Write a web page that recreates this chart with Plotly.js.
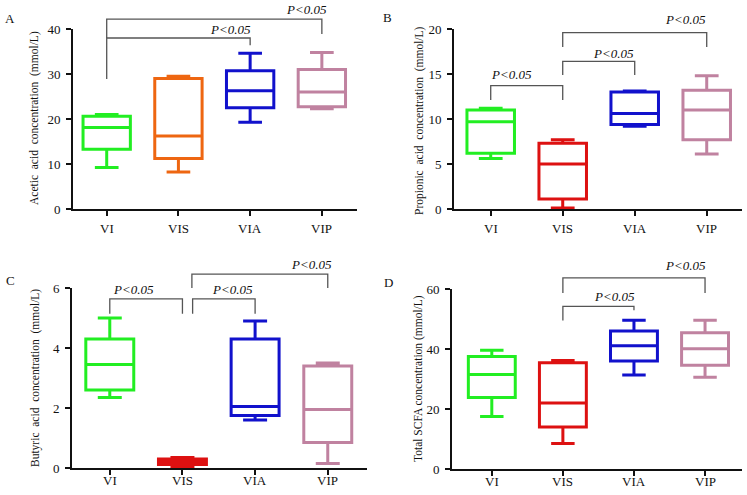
<!DOCTYPE html>
<html>
<head>
<meta charset="utf-8">
<script src="https://cdn.plot.ly/plotly-3.0.1.min.js"></script>
<style>
  body { margin: 0; background: #fff; }
  #chart { width: 747px; height: 495px; }
</style>
</head>
<body>
<div id="chart"></div>
<script>
// groups on the x axis
var groups = ['VI', 'VIS', 'VIA', 'VIP'];

// A - acetic acid
var aLow = [9.2, 8.2, 19.3, 22.3];
var aQ1 = [13.3, 11.2, 22.5, 22.7];
var aMed = [18.1, 16.2, 26.3, 26.0];
var aQ3 = [20.6, 29.0, 30.7, 31.0];
var aHigh = [21.0, 29.5, 34.6, 34.8];

// B - propionic acid
var bLow = [5.6, 0.1, 9.2, 6.1];
var bQ1 = [6.2, 1.1, 9.4, 7.7];
var bMed = [9.7, 5.0, 10.6, 11.0];
var bQ3 = [11.0, 7.3, 13.0, 13.2];
var bHigh = [11.2, 7.7, 13.1, 14.8];

// C - butyric acid
var cLow = [2.35, 0.05, 1.6, 0.15];
var cQ1 = [2.6, 0.12, 1.75, 0.85];
var cMed = [3.45, 0.22, 2.05, 1.95];
var cQ3 = [4.3, 0.3, 4.3, 3.4];
var cHigh = [5.0, 0.35, 4.9, 3.5];

// D - total SCFA
var dLow = [17.5, 8.5, 31.3, 30.6];
var dQ1 = [23.8, 14.0, 36.0, 34.6];
var dMed = [31.5, 22.0, 41.1, 40.1];
var dQ3 = [37.5, 35.4, 46.0, 45.4];
var dHigh = [39.6, 36.2, 49.6, 49.6];

var colorsA = ['#22ee22', '#ee6611', '#1111cc', '#c082a0'];
var colorsBCD = ['#22ee22', '#dd1111', '#1111cc', '#c082a0'];

// significance brackets: [from, to, top, dropLeft, dropRight, labelX, labelY]
var bracketsA = [[0, 2, 38, 28.9, 36.4, 1.72, 40], [0, 3, 42.2, 38, 38.9, 2.78, 44.4]];
var bracketsB = [[0, 1, 13.7, 12.1, 12.1, 0.29, 14.9], [1, 2, 16.4, 14.9, 14.9, 1.71, 17.3], [1, 3, 19.6, 18, 18, 2.71, 21.1]];
var bracketsC = [[0, 1, 5.64, 5.14, 5.14, 0.32, 5.96], [1.14, 2, 5.64, 5.14, 5.14, 1.69, 5.96], [1.13, 3, 6.46, 6.0, 6.0, 2.78, 6.77]];
var bracketsD = [[1, 2, 54.2, 49.5, 52.9, 1.73, 57.5], [1, 3, 63.7, 58.7, 58.7, 2.72, 67.9]];

var panels = [
  {ax: '', low: aLow, q1: aQ1, med: aMed, q3: aQ3, high: aHigh, colors: colorsA, br: bracketsA,
   xd: [73/747, 357/747], yd: [1-209/495, 1-29/495], xr: [-0.47, 3.49], yr: [0, 40], dtick: 10, labOff: 19,
   letter: 'A', lx: 10, ly: 18, title: 'Acetic  acid  concentration  (mmol/L)', tx: 35, ty: 118},
  {ax: '2', low: bLow, q1: bQ1, med: bMed, q3: bQ3, high: bHigh, colors: colorsBCD, br: bracketsB,
   xd: [454/747, 742/747], yd: [1-209/495, 1-29/495], xr: [-0.51, 3.49], yr: [0, 20], dtick: 5, labOff: 19,
   letter: 'B', lx: 387, ly: 17, title: 'Propionic  acid  concentration  (mmol/L)', tx: 419, ty: 121},
  {ax: '3', low: cLow, q1: cQ1, med: cMed, q3: cQ3, high: cHigh, colors: colorsBCD, br: bracketsC,
   xd: [72/747, 367/747], yd: [1-468/495, 1-288/495], xr: [-0.52, 3.54], yr: [0, 6], dtick: 2, labOff: 12,
   letter: 'C', lx: 10, ly: 280, title: 'Butyric  acid  concentration  (mmol/L)', tx: 35, ty: 378},
  {ax: '4', low: dLow, q1: dQ1, med: dMed, q3: dQ3, high: dHigh, colors: colorsBCD, br: bracketsD,
   xd: [452/747, 742/747], yd: [1-469/495, 1-289/495], xr: [-0.56, 3.52], yr: [0, 60], dtick: 20, labOff: 12,
   letter: 'D', lx: 388, ly: 282, title: 'Total SCFA concentration (mmol/L)', tx: 418, ty: 379}
];

var font = 'Liberation Serif, Times New Roman, serif';
var traces = [];
var shapes = [];
var annotations = [];
var layout = {
  width: 747, height: 495,
  margin: {l: 0, r: 0, t: 0, b: 0},
  paper_bgcolor: '#fff', plot_bgcolor: 'rgba(0,0,0,0)',
  showlegend: false,
  boxmode: 'overlay',
  font: {family: font, size: 13, color: '#111'}
};

// data -> paper coordinates, for the brackets that sit above the axis range
function px(p, v) { return p.xd[0] + (v - p.xr[0]) / (p.xr[1] - p.xr[0]) * (p.xd[1] - p.xd[0]); }
function py(p, v) { return p.yd[0] + (v - p.yr[0]) / (p.yr[1] - p.yr[0]) * (p.yd[1] - p.yd[0]); }

panels.forEach(function (p) {
  for (var i = 0; i < groups.length; i++) {
    traces.push({
      type: 'box',
      x: [i],
      q1: [p.q1[i]], median: [p.med[i]], q3: [p.q3[i]],
      lowerfence: [p.low[i]], upperfence: [p.high[i]],
      xaxis: 'x' + p.ax, yaxis: 'y' + p.ax,
      width: 0.66, whiskerwidth: 0.5,
      line: {color: p.colors[i], width: 3},
      fillcolor: 'rgba(0,0,0,0)',
      boxpoints: false, hoverinfo: 'skip'
    });
    // group names sit closer to the axis in the lower row, so place them by hand
    annotations.push({xref: 'x' + p.ax, yref: 'paper', x: i, y: p.yd[0] - p.labOff / 495,
      text: groups[i], showarrow: false, xanchor: 'center', yanchor: 'middle',
      font: {family: font, size: 13, color: '#111'}});
  }
  layout['xaxis' + p.ax] = {
    domain: p.xd, anchor: 'y' + p.ax, range: p.xr,
    tickmode: 'array', tickvals: [0, 1, 2, 3], showticklabels: false,
    showline: true, linewidth: 2, linecolor: '#111',
    ticks: 'outside', ticklen: 5, tickwidth: 2, tickcolor: '#111',
    showgrid: false, zeroline: false
  };
  layout['yaxis' + p.ax] = {
    domain: p.yd, anchor: 'x' + p.ax, range: p.yr,
    tick0: 0, dtick: p.dtick,
    showline: true, linewidth: 2, linecolor: '#111',
    ticks: 'outside', ticklen: 5, tickwidth: 2, tickcolor: '#111',
    showgrid: false, zeroline: false, ticklabelstandoff: 3,
    tickfont: {family: font, size: 13}
  };

  p.br.forEach(function (b) {
    var x0 = px(p, b[0]), x1 = px(p, b[1]), yt = py(p, b[2]);
    shapes.push({type: 'path', xref: 'paper', yref: 'paper',
      path: 'M' + x0 + ',' + py(p, b[3]) + ' L' + x0 + ',' + yt + ' L' + x1 + ',' + yt + ' L' + x1 + ',' + py(p, b[4]),
      line: {color: '#555', width: 1.3}});
    annotations.push({xref: 'paper', yref: 'paper', x: px(p, b[5]), y: py(p, b[6]),
      text: '<i>P&lt;0.05</i>', showarrow: false, xanchor: 'center', yanchor: 'middle',
      font: {family: font, size: 13, color: '#111'}});
  });

  annotations.push({xref: 'paper', yref: 'paper', x: p.lx / 747, y: 1 - p.ly / 495,
    text: p.letter, showarrow: false, xanchor: 'center', yanchor: 'middle',
    font: {family: font, size: 13, color: '#111'}});
  annotations.push({xref: 'paper', yref: 'paper', x: p.tx / 747, y: 1 - p.ty / 495,
    text: p.title, textangle: -90, showarrow: false, xanchor: 'center', yanchor: 'middle',
    font: {family: font, size: 11.5, color: '#111'}});
});

layout.shapes = shapes;
layout.annotations = annotations;

Plotly.newPlot('chart', traces, layout, {displayModeBar: false, staticPlot: true});
</script>
</body>
</html>
